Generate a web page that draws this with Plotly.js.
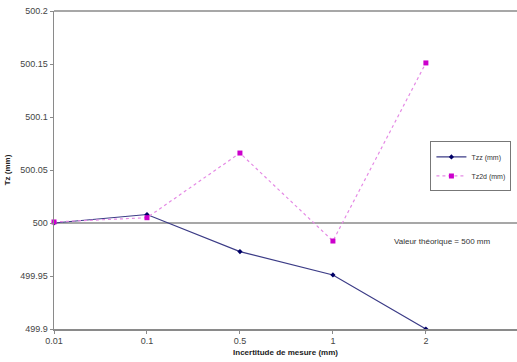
<!DOCTYPE html>
<html><head><meta charset="utf-8">
<script src="https://cdn.plot.ly/plotly-3.0.1.min.js"></script>
<style>html,body{margin:0;padding:0;background:#fff;}#chart{width:517px;height:362px;}</style>
</head><body><div id="chart"></div>
<script>
const categories = ['0.01', '0.1', '0.5', '1', '2'];
const tzz = [500.0, 500.008, 499.973, 499.951, 499.9];
const tz2d = [500.001, 500.005, 500.066, 499.983, 500.151];
const theoretical = 500;
const yTicks = [499.9, 499.95, 500, 500.05, 500.1, 500.15, 500.2];
const yTickText = ['499.9', '499.95', '500', '500.05', '500.1', '500.15', '500.2'];

const font = 'Liberation Sans, Arial, sans-serif';
const traces = [
  {x: categories, y: tzz, name: 'Tzz (mm)', type: 'scatter', mode: 'lines+markers',
   line: {color: '#3b3b86', width: 1.2}, marker: {color: '#000066', size: 4, symbol: 'diamond'}, cliponaxis: false},
  {x: categories, y: tz2d, name: 'Tz2d (mm)', type: 'scatter', mode: 'lines+markers',
   line: {color: '#e58ae5', width: 1.2, dash: 'dot'}, marker: {color: '#cc00cc', size: 5, symbol: 'square'}, cliponaxis: false}
];
const layout = {
  width: 517, height: 362,
  margin: {l: 54, r: 0, t: 11, b: 33},
  paper_bgcolor: '#fff', plot_bgcolor: '#fff',
  font: {family: font, size: 8, color: '#333'},
  showlegend: true,
  legend: {x: 0.813, y: 0.59, xanchor: 'left', yanchor: 'top', bgcolor: '#fff',
    bordercolor: '#777', borderwidth: 1, font: {size: 7, color: '#333'}, tracegroupgap: 0,
    itemwidth: 30},
  xaxis: {type: 'category', range: [0, 4.98], showgrid: false, zeroline: false,
    showline: true, linecolor: '#8a8a8a', linewidth: 1.5,
    ticks: 'outside', ticklen: 3, tickcolor: '#8a8a8a',
    tickfont: {size: 9, color: '#444'},
    title: {text: '<b>Incertitude de mesure (mm)</b>', font: {size: 8, color: '#222'}, standoff: 4}},
  yaxis: {range: [499.9, 500.2], tickvals: yTicks, ticktext: yTickText, showgrid: false, zeroline: false,
    showline: true, linecolor: '#8a8a8a', linewidth: 1.5,
    ticks: 'outside', ticklen: 3, tickcolor: '#8a8a8a',
    tickfont: {size: 9, color: '#444'},
    title: {text: '<b>Tz (mm)</b>', font: {size: 8, color: '#222'}, standoff: 8}},
  shapes: [
    {type: 'line', xref: 'paper', yref: 'y', x0: 0, x1: 1, y0: theoretical, y1: theoretical,
     line: {color: '#8a8a8a', width: 1.5}, layer: 'below'},
    {type: 'line', xref: 'paper', yref: 'paper', x0: 0, x1: 1, y0: 1, y1: 1,
     line: {color: '#8a8a8a', width: 1.5}}
  ],
  annotations: [
    {xref: 'paper', yref: 'y', x: 0.839, y: 499.983, xanchor: 'center', yanchor: 'middle',
     text: 'Valeur théorique = 500 mm', showarrow: false, font: {size: 8, color: '#333'}}
  ]
};
Plotly.newPlot('chart', traces, layout, {displayModeBar: false, staticPlot: true});
</script></body></html>
